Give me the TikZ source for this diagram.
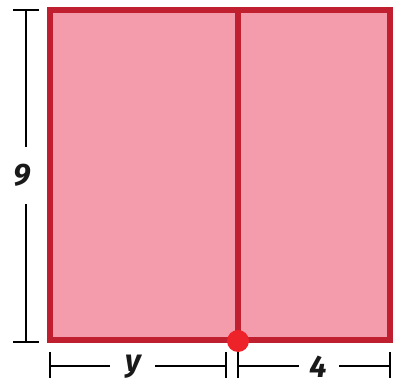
\documentclass[tikz,border=0pt]{standalone}
\usepackage{fontspec}
\setsansfont{Fira Sans}
\begin{document}
\begin{tikzpicture}[x=1pt,y=-1pt,
  border/.style={draw=rectred,line width=6pt},
  dimline/.style={draw=black,line width=2.2pt},
  lbl/.style={font=\sffamily\bfseries\itshape\fontsize{31}{31}\selectfont,text=black!90,inner sep=0pt}]
\definecolor{rectred}{HTML}{C01F2F}
\definecolor{rectfill}{HTML}{F49CAC}
\definecolor{dotred}{HTML}{EE2229}
\useasboundingbox (0,0) rectangle (393,387);
% rectangle
\coordinate (tl) at (50,10);
\coordinate (br) at (390,340);
\coordinate (mt) at (238,10);
\coordinate (mb) at (238,340);
\path[fill=rectfill] (tl) rectangle (br);
\draw[border] (mt) -- (mb);
\draw[border,line join=miter] (tl) rectangle (br);
\fill[dotred] (238,341) circle (11);
\node (dot) at (238,341) {};
% left dimension
\node[lbl] (nine) at (22,175) {9};
\coordinate (lt) at (26,10);
\coordinate (lb) at (26,342);
\draw[dimline] (13,10) -- (39,10);
\draw[dimline] (13,342) -- (39,342);
\draw[dimline] (lt) -- (26,147);
\draw[dimline] (26,204) -- (lb);
% bottom dimension y
\node[lbl] (ylab) at (133,367) {y};
\draw[dimline] (50,352) -- (50,378);
\draw[dimline] (226,352) -- (226,378);
\draw[dimline] (50,366) -- (110,366);
\draw[dimline] (155,366) -- (226,366);
% bottom dimension 4
\node[lbl] (four) at (318,367) {4};
\draw[dimline] (238,352) -- (238,378);
\draw[dimline] (390,352) -- (390,378);
\draw[dimline] (238,366) -- (299,366);
\draw[dimline] (339,366) -- (390,366);
\end{tikzpicture}
\end{document}
